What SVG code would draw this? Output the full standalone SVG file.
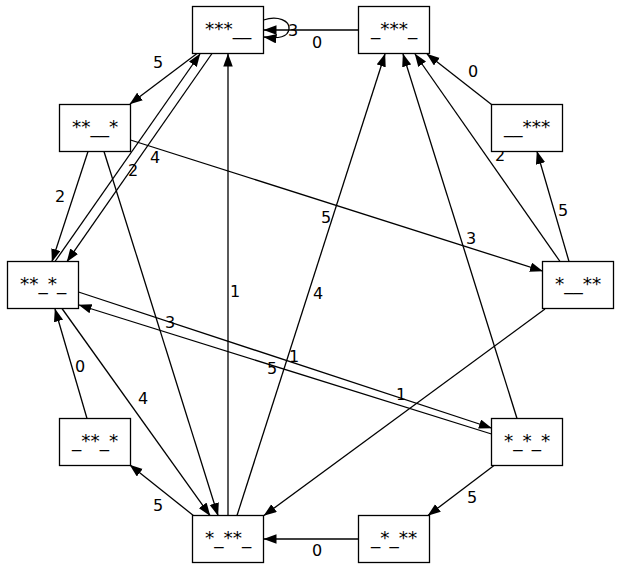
<svg xmlns="http://www.w3.org/2000/svg" width="621" height="571" viewBox="0 0 621 571">
<style>
.n rect{fill:#fff;stroke:#000;stroke-width:1.3}
.n text{font-family:"DejaVu Sans",sans-serif;font-size:18.5px;text-anchor:middle;fill:#000}
.e path,.e line{stroke:#000;stroke-width:1.3;fill:none;marker-end:url(#ah)}
.l text{font-family:"DejaVu Sans",sans-serif;font-size:16px;text-anchor:middle;fill:#000}
</style>
<defs>
<marker id="ah" markerUnits="userSpaceOnUse" markerWidth="14" markerHeight="10" refX="12.5" refY="4.75" orient="auto">
<path d="M0,0 L13,4.75 L0,9.5 z" fill="#000"/>
</marker>
</defs>
<rect width="621" height="571" fill="#fff"/>
<g class="e" id="edges">
<path d="M263.5,20 C278,15 290,21 289,29 C288,37 279,39 264,37"/>
<line x1="358.5" y1="30" x2="264" y2="30"/>
<line x1="197" y1="53.5" x2="130" y2="104"/>
<line x1="55" y1="261.5" x2="200" y2="54"/>
<line x1="212" y1="53.5" x2="67" y2="261.5"/>
<line x1="88" y1="151.5" x2="52" y2="261.5"/>
<line x1="104" y1="151.5" x2="218" y2="515.5"/>
<line x1="130.5" y1="140" x2="542.5" y2="271"/>
<line x1="228" y1="515.5" x2="228" y2="54"/>
<line x1="237" y1="515.5" x2="385" y2="54"/>
<line x1="517" y1="418.5" x2="403" y2="54"/>
<line x1="560" y1="261.5" x2="415" y2="54"/>
<line x1="491.5" y1="104.5" x2="427" y2="54"/>
<line x1="569" y1="261.5" x2="537" y2="151.5"/>
<line x1="78.5" y1="292" x2="491.5" y2="428"/>
<line x1="491.5" y1="434" x2="79" y2="305"/>
<line x1="545" y1="309" x2="264" y2="515.5"/>
<line x1="62" y1="308.5" x2="210" y2="515.5"/>
<line x1="87" y1="418.5" x2="55" y2="309"/>
<line x1="194" y1="516" x2="130" y2="465"/>
<line x1="358.5" y1="539" x2="264" y2="539"/>
<line x1="494" y1="465.5" x2="428" y2="515.5"/>
</g>
<g class="l" id="labels">
<text x="293" y="36">3</text>
<text x="317" y="48">0</text>
<text x="158" y="68">5</text>
<text x="155" y="163">4</text>
<text x="133" y="176">2</text>
<text x="60" y="202">2</text>
<text x="326" y="223">5</text>
<text x="471" y="244">3</text>
<text x="235" y="297">1</text>
<text x="318" y="299">4</text>
<text x="170" y="328">3</text>
<text x="294" y="362">1</text>
<text x="272" y="374">5</text>
<text x="80" y="372">0</text>
<text x="401" y="400">1</text>
<text x="143" y="404">4</text>
<text x="158" y="511">5</text>
<text x="317" y="556">0</text>
<text x="472" y="503">5</text>
<text x="563" y="216">5</text>
<text x="500" y="161">2</text>
<text x="473" y="77">0</text>
</g>
<g class="n" id="n1"><rect x="192.5" y="6.5" width="71" height="47"/><text x="228" y="35">***__</text></g>
<g class="n" id="n2"><rect x="358.5" y="6.5" width="71" height="47"/><text x="394" y="35">_***_</text></g>
<g class="n" id="n3"><rect x="59.5" y="104.5" width="71" height="47"/><text x="95" y="133">**__*</text></g>
<g class="n" id="n4"><rect x="491.5" y="104.5" width="71" height="47"/><text x="527" y="133">__***</text></g>
<g class="n" id="n5"><rect x="7.5" y="261.5" width="71" height="47"/><text x="43" y="290">**_*_</text></g>
<g class="n" id="n6"><rect x="542.5" y="261.5" width="71" height="47"/><text x="578" y="290">*__**</text></g>
<g class="n" id="n7"><rect x="59.5" y="418.5" width="71" height="47"/><text x="95" y="447">_**_*</text></g>
<g class="n" id="n8"><rect x="491.5" y="418.5" width="71" height="47"/><text x="527" y="447">*_*_*</text></g>
<g class="n" id="n9"><rect x="192.5" y="515.5" width="71" height="47"/><text x="228" y="544">*_**_</text></g>
<g class="n" id="n10"><rect x="358.5" y="515.5" width="71" height="47"/><text x="394" y="544">_*_**</text></g>
</svg>
